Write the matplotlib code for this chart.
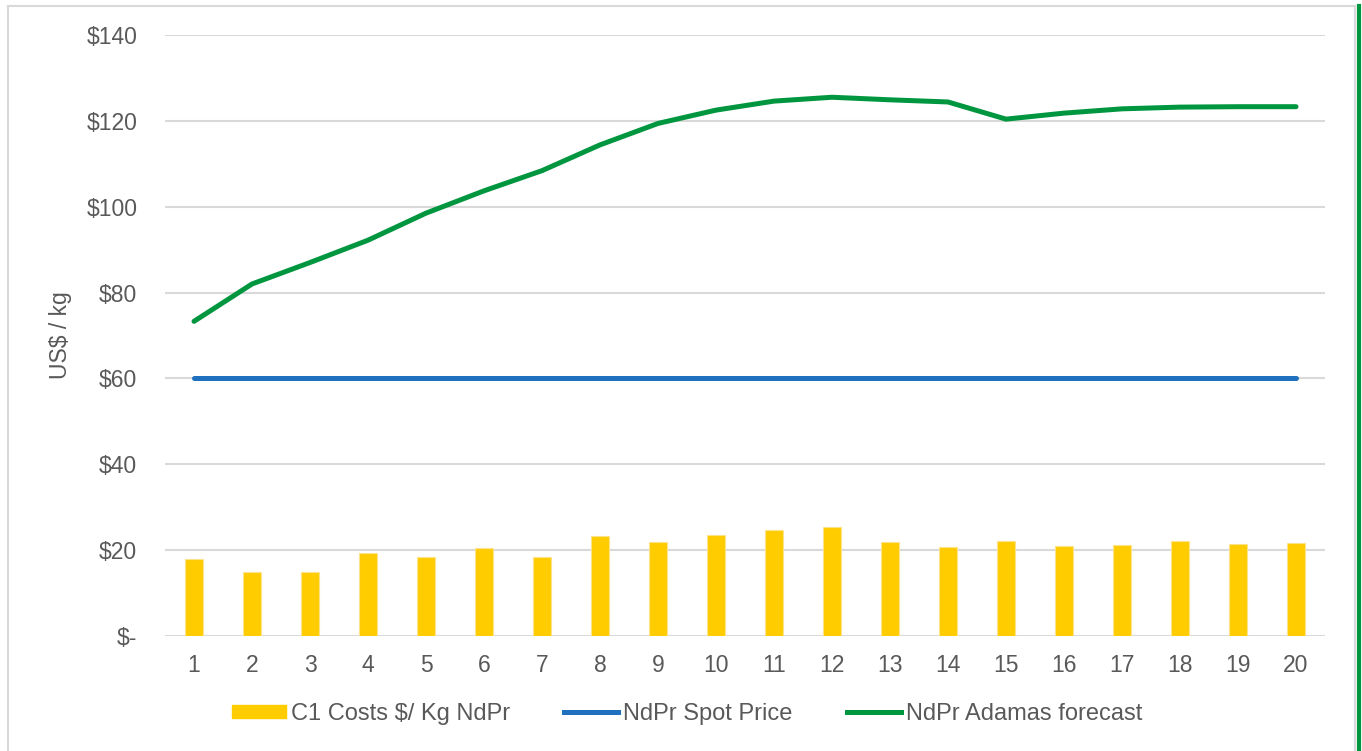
import matplotlib
matplotlib.use("Agg")
import matplotlib.pyplot as plt
from matplotlib.patches import Rectangle
from matplotlib.lines import Line2D

periods = list(range(1, 21))
c1_costs = [17.9, 14.8, 15.0, 19.3, 18.5, 20.6, 18.3, 23.2, 21.9, 23.5,
            24.7, 25.5, 21.9, 20.7, 22.1, 20.9, 21.1, 22.2, 21.4, 21.6]
spot_price = [60] * 20
adamas_forecast = [73.3, 82.0, 87.0, 92.2, 98.5, 103.7, 108.4, 114.4, 119.4, 122.5,
                   124.6, 125.5, 124.9, 124.4, 120.4, 121.8, 122.8, 123.2, 123.3, 123.3]
yticks = [0, 20, 40, 60, 80, 100, 120, 140]
ytick_labels = ["$-", "$20", "$40", "$60", "$80", "$100", "$120", "$140"]

plt.rcParams['font.family'] = ['Liberation Sans', 'DejaVu Sans']
TXT = '#595959'
FS = 16.5

fig = plt.figure(figsize=(13.62, 7.51), dpi=100)
ax = fig.add_axes([165/1362, 1-636/751, (1325-165)/1362, (636-35)/751])

ax.bar(periods, c1_costs, width=0.31, color='#FFCC00', edgecolor='#FFE38A',
       linewidth=0.8, zorder=3, label='C1 Costs $/ Kg NdPr')
ax.plot(periods, spot_price, color='#1F70BE', lw=3.6, solid_capstyle='round',
        zorder=4, label='NdPr Spot Price')
ax.plot(periods, adamas_forecast, color='#00963F', lw=3.6, solid_capstyle='round',
        solid_joinstyle='round', zorder=5, label='NdPr Adamas forecast')

ax.set_xlim(0.5, 20.5)
ax.set_ylim(0, 140)
ax.set_yticks(yticks)
ax.set_yticklabels(ytick_labels)
ax.set_xticks(periods)
ax.set_xticklabels([str(p) for p in periods])
ax.tick_params(axis='both', length=0, labelsize=FS, labelcolor=TXT)
ax.tick_params(axis='y', pad=20)
ax.tick_params(axis='x', pad=13)
for s in ax.spines.values():
    s.set_visible(False)
ax.yaxis.grid(True, color='#D9D9D9', lw=1.5, zorder=0)
ax.set_axisbelow(True)
ax.set_ylabel('US$ / kg', fontsize=FS, color=TXT)
ax.yaxis.set_label_coords(-(165-72)/1160, 0.5)

handles = [Rectangle((0, 0), 1, 1, color='#FFCC00'),
           Line2D([], [], color='#1F70BE', lw=3.6),
           Line2D([], [], color='#00963F', lw=3.6)]
labels = ['C1 Costs $/ Kg NdPr', 'NdPr Spot Price', 'NdPr Adamas forecast']
leg = fig.legend(handles, labels, loc='center', bbox_to_anchor=(687/1362, 1-714/751),
                 ncol=3, frameon=False, fontsize=17, handlelength=2.3,
                 handleheight=0.5, handletextpad=0.2, columnspacing=2.3)
for t in leg.get_texts():
    t.set_color(TXT)

# chart frame
fig.add_artist(Line2D([8/1362, 8/1362], [0, 1-6/751], transform=fig.transFigure,
                      color='#D9D9D9', lw=1.5))
fig.add_artist(Line2D([8/1362, 1355/1362], [1-6/751, 1-6/751], transform=fig.transFigure,
                      color='#D9D9D9', lw=1.5))
fig.add_artist(Line2D([1355/1362, 1355/1362], [0, 1-6/751], transform=fig.transFigure,
                      color='#D9D9D9', lw=1.5))
fig.add_artist(Line2D([1359/1362, 1359/1362], [0, 1-6/751], transform=fig.transFigure,
                      color='#00963F', lw=3))

fig.savefig('out.png', dpi=100)
